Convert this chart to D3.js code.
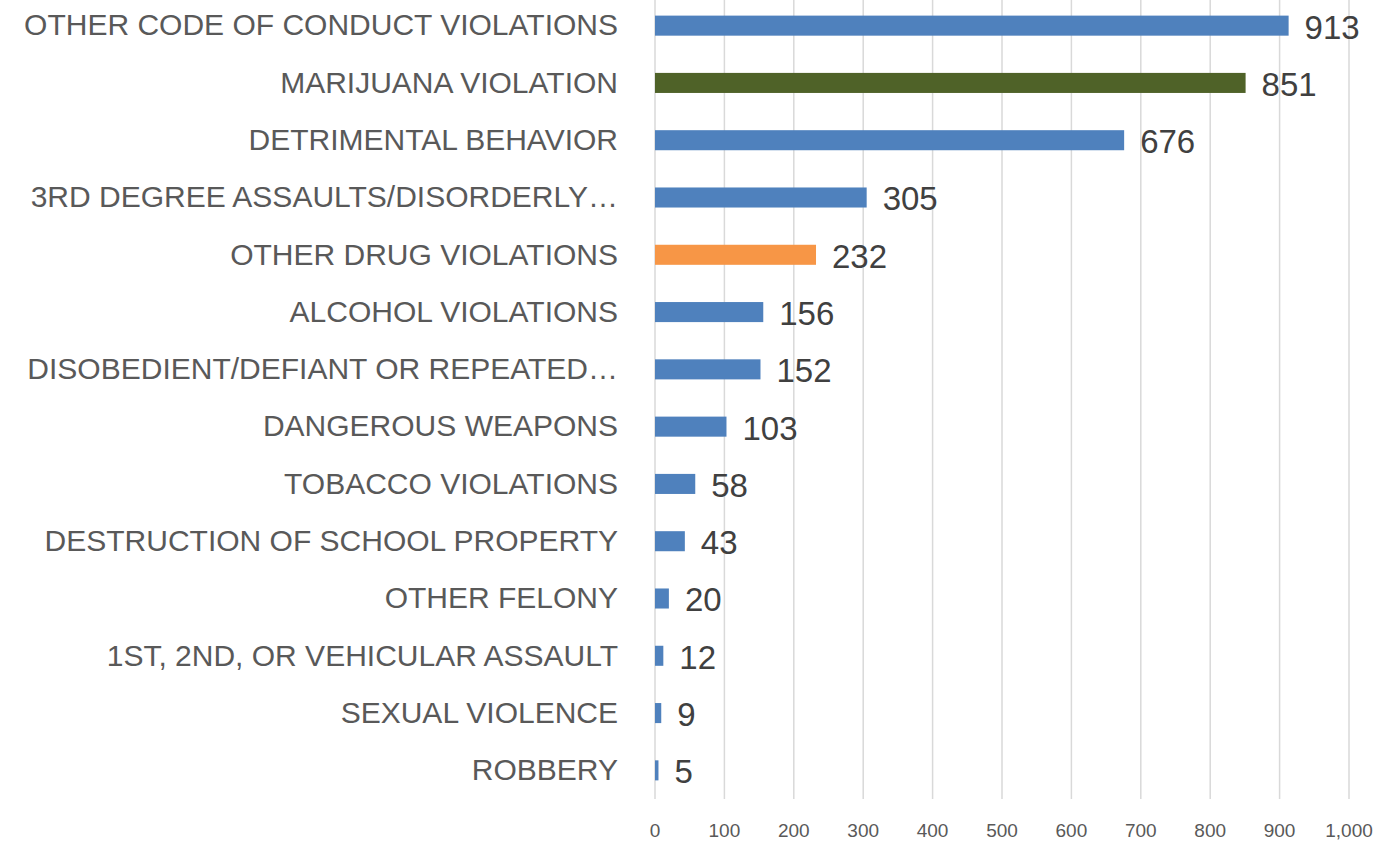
<!DOCTYPE html>
<html lang="en">
  <head>
    <meta charset="utf-8">
    <title>Violations</title>
    <script src="https://d3js.org/d3.v7.min.js"></script>
    <style>
      body { margin: 0; background: #fff; }
    </style>
  </head>
<body>

<script>
var categories = [
    "OTHER CODE OF CONDUCT VIOLATIONS",
    "MARIJUANA VIOLATION",
    "DETRIMENTAL BEHAVIOR",
    "3RD DEGREE ASSAULTS/DISORDERLY…",
    "OTHER DRUG VIOLATIONS",
    "ALCOHOL VIOLATIONS",
    "DISOBEDIENT/DEFIANT OR REPEATED…",
    "DANGEROUS WEAPONS",
    "TOBACCO VIOLATIONS",
    "DESTRUCTION OF SCHOOL PROPERTY",
    "OTHER FELONY",
    "1ST, 2ND, OR VEHICULAR ASSAULT",
    "SEXUAL VIOLENCE",
    "ROBBERY"
];
var counts = [913, 851, 676, 305, 232, 156, 152, 103, 58, 43, 20, 12, 9, 5];
var barColors = ["#4f81bd", "#4f6228", "#4f81bd", "#4f81bd", "#f79646", "#4f81bd", "#4f81bd",
                 "#4f81bd", "#4f81bd", "#4f81bd", "#4f81bd", "#4f81bd", "#4f81bd", "#4f81bd"];
var xTicks = [0, 100, 200, 300, 400, 500, 600, 700, 800, 900, 1000];

var width = 1380, height = 842;
var font = "'Liberation Sans', Arial, sans-serif";

var svg = d3.select("body")
    .append("svg")
    .attr("width", width)
    .attr("height", height);

var x = d3.scaleLinear().domain([0, 1000]).range([655, 1349]);
var y = d3.scaleBand().domain(categories).range([-3, 799]).paddingInner(0.65).paddingOuter(0.325);

// gridlines
svg.append("g")
    .selectAll("line")
    .data(xTicks)
    .join("line")
    .attr("x1", d => x(d))
    .attr("x2", d => x(d))
    .attr("y1", 0)
    .attr("y2", 799)
    .attr("stroke", "#d9d9d9")
    .attr("stroke-width", 1.5);

// tick labels
svg.append("g")
    .selectAll("text")
    .data(xTicks)
    .join("text")
    .attr("x", d => x(d))
    .attr("y", 837)
    .attr("text-anchor", "middle")
    .attr("font-family", font)
    .attr("font-size", 19)
    .attr("fill", "#595959")
    .text(d => d3.format(",")(d));

var rows = svg.append("g")
    .selectAll("g")
    .data(categories)
    .join("g");

rows.append("rect")
    .attr("x", x(0))
    .attr("y", d => y(d))
    .attr("width", (d, i) => x(counts[i]) - x(0))
    .attr("height", y.bandwidth())
    .attr("fill", (d, i) => barColors[i]);

rows.append("text")
    .attr("x", 618)
    .attr("y", d => y(d) + y.bandwidth() / 2 - 1)
    .attr("dy", "0.36em")
    .attr("text-anchor", "end")
    .attr("font-family", font)
    .attr("font-size", 30)
    .attr("fill", "#595959")
    .text(d => d);

rows.append("text")
    .attr("x", (d, i) => x(counts[i]) + 16)
    .attr("y", d => y(d) + y.bandwidth() / 2 + 1)
    .attr("dy", "0.36em")
    .attr("font-family", font)
    .attr("font-size", 33)
    .attr("fill", "#404040")
    .text((d, i) => counts[i]);
</script>
</body>
</html>
